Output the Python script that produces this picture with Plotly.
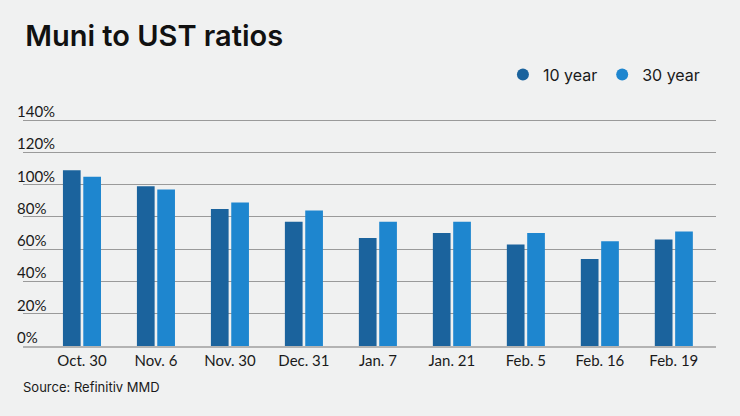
import plotly.graph_objects as go

categories = ["Oct. 30", "Nov. 6", "Nov. 30", "Dec. 31", "Jan. 7", "Jan. 21", "Feb. 5", "Feb. 16", "Feb. 19"]
ten_year = [109, 99, 85, 77, 67, 70, 63, 54, 66]
thirty_year = [105, 97, 89, 84, 77, 77, 70, 65, 71]
y_ticks = [0, 20, 40, 60, 80, 100, 120, 140]
y_tick_labels = [f"{v}%" for v in y_ticks]

DARK = "#1b639d"
LIGHT = "#1e86cf"
BG = "#f0f1f1"
TEXT = "#1a1a1a"

fig = go.Figure()
fig.add_trace(go.Bar(x=categories, y=ten_year, name="10 year", marker=dict(color=DARK, line=dict(width=0)), showlegend=False))
fig.add_trace(go.Bar(x=categories, y=thirty_year, name="30 year", marker=dict(color=LIGHT, line=dict(width=0)), showlegend=False))
# legend entries with round markers
fig.add_trace(go.Scatter(x=[None], y=[None], mode="markers", name="10 year", marker=dict(color=DARK, size=12, symbol="circle")))
fig.add_trace(go.Scatter(x=[None], y=[None], mode="markers", name="30 year", marker=dict(color=LIGHT, size=12, symbol="circle")))

for v, lab in zip(y_ticks, y_tick_labels):
    fig.add_annotation(x=-0.012, xref="paper", xanchor="left", y=v, yref="y", yanchor="bottom",
                       text=lab, showarrow=False, yshift=-2,
                       font=dict(family="Lato", size=15, color=TEXT))

fig.add_annotation(x=-0.003, xref="paper", xanchor="left", y=-0.18, yref="paper", yanchor="middle",
                   text="Source: Refinitiv MMD", showarrow=False,
                   font=dict(family="Inter", size=13, color=TEXT))

fig.update_layout(
    width=740, height=416,
    margin=dict(l=23, r=24, t=117, b=70),
    paper_bgcolor=BG, plot_bgcolor=BG,
    barmode="group", bargap=0.45, bargroupgap=0.13,
    title=dict(text="Muni to UST ratios", x=0.034, xanchor="left", y=0.915, yanchor="middle",
               font=dict(family="Inter", size=29, weight=600, color="#111111")),
    legend=dict(orientation="h", x=0.984, xanchor="right", y=1.185, yanchor="middle",
                font=dict(family="Inter", size=16, color=TEXT), bgcolor="rgba(0,0,0,0)", itemwidth=30),
    xaxis=dict(range=[-0.797, 8.57], showgrid=False, showline=True, linecolor="#b3b3b3", linewidth=2,
               ticks="", tickfont=dict(family="Lato", size=15, color=TEXT), fixedrange=True),
    yaxis=dict(range=[0, 142], tickvals=y_ticks, showticklabels=False, showgrid=True, gridcolor="#9a9a9a",
               gridwidth=1, zeroline=False, fixedrange=True),
)

fig.write_html("out.html", config={"displayModeBar": False},
               post_script="document.body.style.margin='0';document.body.style.background='%s';" % BG)
